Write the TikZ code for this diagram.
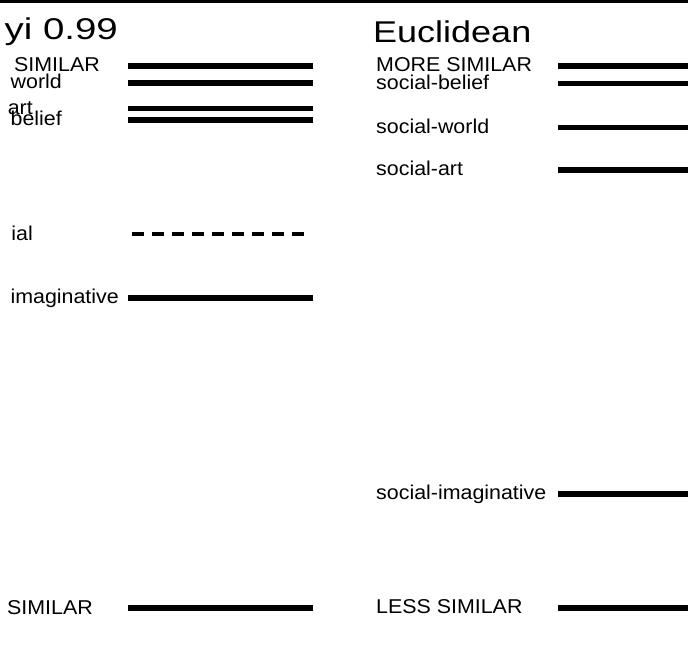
\documentclass[tikz,border=0pt]{standalone}
\usepackage{fontspec}
\setmainfont{Liberation Sans}
\newfontfamily\titlefont[FakeStretch=1.2]{Liberation Sans}
\newfontfamily\widetitlefont[FakeStretch=1.28]{Liberation Sans}
\newfontfamily\labelfont[FakeStretch=1.07]{Liberation Sans}
\usetikzlibrary{positioning}

\begin{document}
\begin{tikzpicture}
  [
    x=1pt, y=-1pt,
    Title/.style={inner sep=0pt, font=\titlefont\fontsize{30}{30}\selectfont},
    Lab/.style={inner sep=0pt, font=\labelfont\fontsize{20}{20}\selectfont},
    Bar/.style={line width=5.5pt, black},
    Dashbar/.style={line width=4pt, black, dash pattern=on 12pt off 8pt}
  ]
  \useasboundingbox (0,0) rectangle (688,648);
  \fill[black] (0,0) rectangle (688,3);

  % Nodes
  \node[Title, font=\widetitlefont\fontsize{30}{30}\selectfont, anchor=base east] (tl) at (118,39) {yi 0.99};
  \node[Title, anchor=base west] (tr) at (373,42) {Euclidean};

  \node[Lab, anchor=base east] (l1) at (100,71.5) {SIMILAR};
  \node[Lab, anchor=base east] (l2) at (62,88.5) {world};
  \node[Lab, anchor=base east] (l3) at (33,114) {art};
  \node[Lab, anchor=base east] (l4) at (62,125.5) {belief};
  \node[Lab, anchor=base east] (l5) at (33,240) {ial};
  \node[Lab, anchor=base east] (l6) at (119,303.5) {imaginative};
  \node[Lab, anchor=base east] (l7) at (93,614) {SIMILAR};

  \node[Lab, anchor=base west] (r1) at (376,71.5) {MORE SIMILAR};
  \node[Lab, anchor=base west] (r2) at (376,89) {social-belief};
  \node[Lab, anchor=base west] (r3) at (376,133) {social-world};
  \node[Lab, anchor=base west] (r4) at (376,175.5) {social-art};
  \node[Lab, anchor=base west] (r5) at (376,499.5) {social-imaginative};
  \node[Lab, anchor=base west] (r6) at (376,613.5) {LESS SIMILAR};

  % Line ends
  \foreach \n/\y in {1/66, 2/83, 3/108.5, 4/120, 6/298, 7/608} {
    \coordinate (ls\n) at (128,\y);
    \coordinate (le\n) at (313,\y);
  }
  \coordinate (ls5) at (132,234);
  \coordinate (le5) at (310,234);
  \foreach \n/\y in {1/66, 2/83.5, 3/127.5, 4/170, 5/494, 6/608} {
    \coordinate (rs\n) at (558,\y);
    \coordinate (re\n) at (688,\y);
  }

  % Lines
  \path [draw, Bar] (ls1) -- (le1);
  \path [draw, Bar] (ls2) -- (le2);
  \path [draw, Bar] (ls3) -- (le3);
  \path [draw, Bar] (ls4) -- (le4);
  \path [draw, Dashbar] (ls5) -- (le5);
  \path [draw, Bar] (ls6) -- (le6);
  \path [draw, Bar] (ls7) -- (le7);

  \path [draw, Bar] (rs1) -- (re1);
  \path [draw, Bar] (rs2) -- (re2);
  \path [draw, Bar] (rs3) -- (re3);
  \path [draw, Bar] (rs4) -- (re4);
  \path [draw, Bar] (rs5) -- (re5);
  \path [draw, Bar] (rs6) -- (re6);

\end{tikzpicture}
\end{document}
